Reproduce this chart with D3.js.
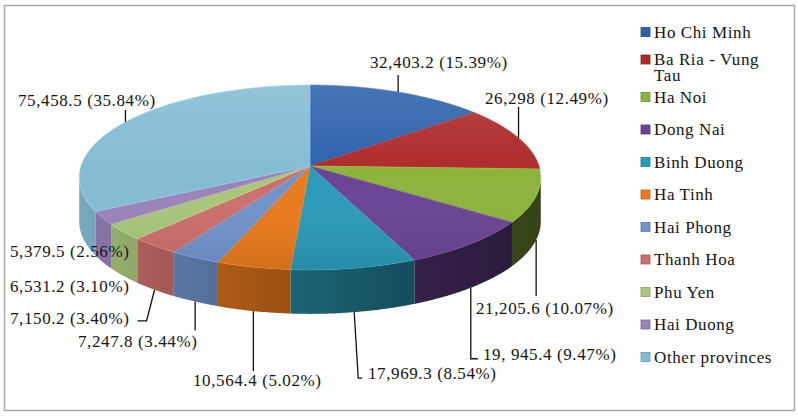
<!DOCTYPE html>
<html>
<head>
<meta charset="utf-8">
<script src="https://cdn.jsdelivr.net/npm/d3@7"></script>
<style>
  html, body { margin: 0; padding: 0; background: #fff; }
</style>
</head>
<body>
<div id="chart"></div>
<script>
const WIDTH = 798;
const HEIGHT = 416;
const FONT = "Liberation Serif";
const FONT_SIZE = "17px";
const SPACING = "0.6px";

// data
const provinces = ["Ho Chi Minh", "Ba Ria - Vung Tau", "Ha Noi", "Dong Nai", "Binh Duong",
  "Ha Tinh", "Hai Phong", "Thanh Hoa", "Phu Yen", "Hai Duong", "Other provinces"];
const values = [32403.2, 26298, 21205.6, 19945.4, 17969.3, 10564.4, 7247.8, 7150.2, 6531.2, 5379.5, 75458.5];
const valueLabels = ["32,403.2", "26,298", "21,205.6", "19, 945.4", "17,969.3", "10,564.4",
  "7,247.8", "7,150.2", "6,531.2", "5,379.5", "75,458.5"];
const percentLabels = ["15.39%", "12.49%", "10.07%", "9.47%", "8.54%", "5.02%",
  "3.44%", "3.40%", "3.10%", "2.56%", "35.84%"];
const colors = ["#2d62ab", "#ae2b2b", "#8cb43c", "#6a4494", "#2a9bb8", "#e97a1c",
  "#7094cb", "#cc6f6c", "#a9c77a", "#9a83ba", "#84bcd4"];

// where each data label sits (text start x, text middle y) and its leader legs
const labelLayout = [
  {x: 370, y: 62, legs: [[0, -17]]},
  {x: 485, y: 98, legs: [[0, -31]]},
  {x: 476, y: 308, legs: [[0, 56]]},
  {x: 483, y: 354, legs: [[0, 71], [7, 0]]},
  {x: 368, y: 373, legs: [[4, 66], [4, 0]]},
  {x: 193, y: 380, legs: [[0, 60]]},
  {x: 78, y: 341, legs: [[0, 29]]},
  {x: 10, y: 318, legs: [[-8, 31], [-9, 0]]},
  {x: 10, y: 286, legs: []},
  {x: 10, y: 251, legs: []},
  {x: 18, y: 100, legs: [[0, -12]]}
];

const data = provinces.map((p, i) => ({name: p, value: values[i], color: colors[i],
  label: valueLabels[i] + " (" + percentLabels[i] + ")", layout: labelLayout[i]}));

// pie geometry (a tilted disc seen in slight perspective)
const cx = 310, cy = 166, rx = 229, ry = 91, persp = 0.124, depth = 44;

function project(a, dy) {
  let u = Math.sin(a), v = -Math.cos(a);
  let w = 1 - persp * v;
  return [cx + rx * u / w, cy + ry * v / w + (dy || 0)];
}
function arcPoints(a0, a1, dy) {
  let n = Math.max(2, Math.ceil((a1 - a0) / 0.01));
  return d3.range(n + 1).map(i => project(a0 + (a1 - a0) * i / n, dy));
}

const pie = d3.pie().sort(null).value(d => d.value);
const arcs = pie(data);
const line = d3.line();

const svg = d3.select("#chart").append("svg")
  .attr("width", WIDTH)
  .attr("height", HEIGHT);
const defs = svg.append("defs");

svg.append("rect")
  .attr("x", 4.5).attr("y", 5.5)
  .attr("width", 790).attr("height", 405)
  .attr("fill", "#fff")
  .attr("stroke", "#a8a8a8")
  .attr("stroke-width", 1.5);

// side gradients, darker toward the right
const shade = t => 0.3 + 2.5 * Math.pow(t, 1.3);
arcs.forEach((d, i) => {
  let g = defs.append("linearGradient")
    .attr("id", "side" + i)
    .attr("gradientUnits", "userSpaceOnUse")
    .attr("x1", cx - rx).attr("x2", cx + rx)
    .attr("y1", 0).attr("y2", 0);
  [0, 0.2, 0.4, 0.6, 0.8, 1].forEach(t => {
    g.append("stop").attr("offset", t).attr("stop-color", d3.color(d.data.color).darker(shade(t)));
  });
});

const topGrad = defs.append("linearGradient")
  .attr("id", "topShade")
  .attr("gradientUnits", "userSpaceOnUse")
  .attr("x1", 0).attr("x2", 0)
  .attr("y1", cy - ry).attr("y2", cy + ry + 14);
topGrad.append("stop").attr("offset", 0).attr("stop-color", "#fff").attr("stop-opacity", 0.14);
topGrad.append("stop").attr("offset", 0.5).attr("stop-color", "#fff").attr("stop-opacity", 0);
topGrad.append("stop").attr("offset", 1).attr("stop-color", "#000").attr("stop-opacity", 0.1);

// visible part of the wall
const aL = Math.acos(-persp), aR = 2 * Math.PI - aL;
const pieG = svg.append("g");

pieG.selectAll(".side")
  .data(arcs.filter(d => Math.min(d.endAngle, aR) > Math.max(d.startAngle, aL)))
  .enter().append("path")
    .attr("class", "side")
    .attr("fill", d => "url(#side" + d.index + ")")
    .attr("d", d => {
      let s0 = Math.max(d.startAngle, aL), s1 = Math.min(d.endAngle, aR);
      return line(arcPoints(s0, s1, 0).concat(arcPoints(s0, s1, depth).reverse())) + "Z";
    });

pieG.selectAll(".slice")
  .data(arcs)
  .enter().append("path")
    .attr("class", "slice")
    .attr("fill", d => d.data.color)
    .attr("stroke", d => d3.color(d.data.color).brighter(0.4))
    .attr("stroke-width", 0.5)
    .attr("d", d => line([[cx, cy]].concat(arcPoints(d.startAngle, d.endAngle, 0))) + "Z");

pieG.append("path")
  .attr("fill", "url(#topShade)")
  .attr("d", line(arcPoints(0, 2 * Math.PI, 0)) + "Z");

// data labels with leader lines
const labelG = svg.append("g");
arcs.forEach(d => {
  let lay = d.data.layout;
  let mid = (d.startAngle + d.endAngle) / 2;
  let front = -Math.cos(mid) > 0;
  let p = project(mid, front ? depth : 0);
  if (lay.legs.length) {
    let pts = [p];
    lay.legs.forEach(l => {
      let last = pts[pts.length - 1];
      pts.push([last[0] + l[0], last[1] + l[1]]);
    });
    labelG.append("path")
      .attr("d", line(pts))
      .attr("fill", "none")
      .attr("stroke", "#111")
      .attr("stroke-width", 1.3);
  }
  labelG.append("text")
    .attr("x", lay.x)
    .attr("y", lay.y)
    .attr("dy", "0.35em")
    .attr("fill", "#151515")
    .style("font-family", FONT)
    .style("font-size", FONT_SIZE)
    .style("letter-spacing", SPACING)
    .text(d.data.label);
});

// legend
const legY = d3.scaleLinear().domain([0, provinces.length - 1]).range([32, 357]);
const legend = svg.append("g");
data.forEach((d, i) => {
  let y = legY(i);
  let t = legend.append("text")
    .attr("x", 654).attr("y", y)
    .attr("dy", "0.35em")
    .attr("fill", "#151515")
    .style("font-family", FONT)
    .style("font-size", FONT_SIZE)
    .style("letter-spacing", SPACING);
  // wrap long names
  let words = d.name.split(" ");
  let span = t.append("tspan").attr("x", 654).text(words[0]);
  let lines = 1;
  for (let w = 1; w < words.length; w++) {
    let prev = span.text();
    span.text(prev + " " + words[w]);
    if (span.node().getComputedTextLength() > 125) {
      span.text(prev);
      span = t.append("tspan").attr("x", 654).attr("dy", "16px").text(words[w]);
      lines++;
    }
  }
  // a wrapped entry moves up a little so it stays clear of the next row
  let shift = lines > 1 ? -5 : 0;
  t.attr("y", y + shift);
  legend.append("rect")
    .attr("x", 641).attr("y", y + shift - 4.5)
    .attr("width", 9).attr("height", 9)
    .attr("fill", d.color)
    .attr("stroke", d3.color(d.color).darker(0.6))
    .attr("stroke-width", 0.8);
});
</script>
</body>
</html>
